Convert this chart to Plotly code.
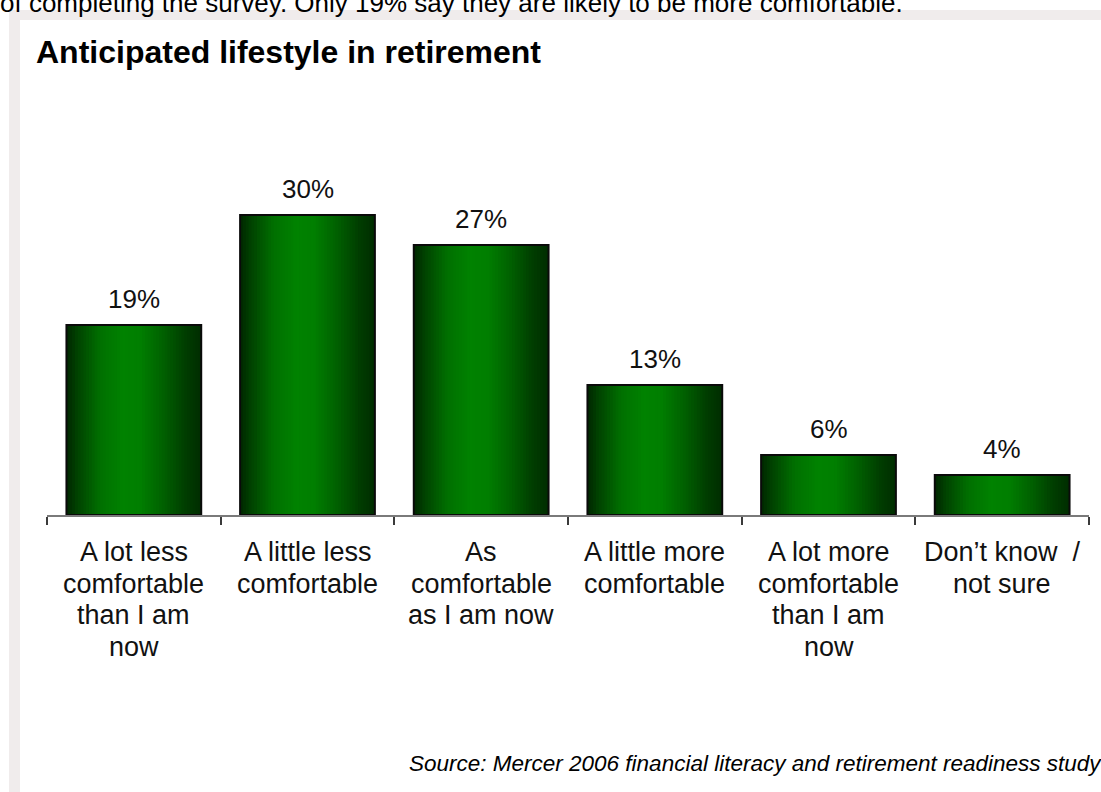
import plotly.graph_objects as go

# --- data ---
categories = ["lot_less", "little_less", "same", "little_more", "lot_more", "unsure"]
tick_labels = [
    "A lot less<br>comfortable<br>than I am<br>now",
    "A little less<br>comfortable",
    "As<br>comfortable<br>as I am now",
    "A little more<br>comfortable",
    "A lot more<br>comfortable<br>than I am<br>now",
    "Don’t know  /<br>not sure",
]
shares = [19, 30, 27, 13, 6, 4]

title_text = "Anticipated lifestyle in retirement"
lead_text = "of completing the survey. Only 19% say they are likely to be more comfortable."
source_text = "Source: Mercer 2006 financial literacy and retirement readiness study"

FONT = "Liberation Sans, Arial, sans-serif"
W, H = 1101, 792
BAR_W = 0.776
LINE_GAP = 31.5

# horizontal shading of the bars: (position across bar, green level)
stops = [(0.0, 38), (0.08, 66), (0.25, 112), (0.42, 130), (0.55, 126),
         (0.72, 96), (0.88, 62), (1.0, 45)]


def green_at(t):
    for (t0, g0), (t1, g1) in zip(stops[:-1], stops[1:]):
        if t0 <= t <= t1:
            g = g0 + (g1 - g0) * (t - t0) / (t1 - t0)
            return f"rgb(0,{round(g)},0)"
    return f"rgb(0,{stops[-1][1]},0)"


fig = go.Figure()

N = 48
strip = BAR_W / N
for i in range(N):
    t = (i + 0.5) / N
    fig.add_trace(go.Bar(
        x=categories, y=shares,
        width=strip * 1.6 if i < N - 1 else strip,
        offset=-BAR_W / 2 + i * strip,
        marker=dict(color=green_at(t), line=dict(width=0)),
        hoverinfo="skip", showlegend=False,
    ))

# outline on top of the shaded strips
fig.add_trace(go.Bar(
    x=categories, y=shares, width=BAR_W,
    marker=dict(color="rgba(0,0,0,0)", line=dict(color="#0a0a0a", width=2)),
    hoverinfo="skip", showlegend=False,
))

# value labels above bars
for c, v in zip(categories, shares):
    fig.add_annotation(
        x=c, y=v, xref="x", yref="y", text=f"{v}%", showarrow=False,
        yanchor="bottom", yshift=9,
        font=dict(family=FONT, size=26, color="#111111"),
    )

# category labels, one line per annotation for tighter leading
for c, lab in zip(categories, tick_labels):
    for k, line in enumerate(lab.split("<br>")):
        fig.add_annotation(
            x=c, y=0, xref="x", yref="paper", text=line, showarrow=False,
            yanchor="middle", yshift=-(37 + k * LINE_GAP),
            font=dict(family=FONT, size=27, color="#111111"),
        )

# background panel
fig.add_shape(type="rect", xref="paper", yref="paper", layer="below",
              x0=-47 / 1042 + 9 / 1042, x1=1 + 12 / 1042,
              y0=-277 / 350, y1=1 + (165 - 10) / 350,
              fillcolor="#f0ecec", line=dict(width=0))
fig.add_shape(type="rect", xref="paper", yref="paper", layer="below",
              x0=-47 / 1042 + 20 / 1042, x1=1 + 12 / 1042,
              y0=-277 / 350, y1=1 + (165 - 20) / 350,
              fillcolor="white", line=dict(width=0))

fig.add_annotation(
    xref="paper", yref="paper", x=0, y=1, xanchor="left", yanchor="middle",
    xshift=-13, yshift=113, text=f"<b>{title_text}</b>", showarrow=False,
    font=dict(family=FONT, size=32, color="black"),
)
fig.add_annotation(
    xref="paper", yref="paper", x=0, y=1, xanchor="left", yanchor="bottom",
    xshift=-49, yshift=145, text=lead_text, showarrow=False,
    font=dict(family=FONT, size=26, color="black"),
)
fig.add_annotation(
    xref="paper", yref="paper", x=1, y=0, xanchor="right", yanchor="middle",
    xshift=15, yshift=-248, text=f"<i>{source_text}</i>", showarrow=False,
    font=dict(family=FONT, size=22.5, color="black"),
)

fig.update_layout(
    width=W, height=H,
    margin=dict(l=47, r=12, t=165, b=277),
    paper_bgcolor="white", plot_bgcolor="rgba(0,0,0,0)",
    barmode="overlay", showlegend=False,
    xaxis=dict(
        type="category", categoryarray=categories,
        tickmode="array", tickvals=categories, showticklabels=False,
        tickson="boundaries", ticks="outside", ticklen=8, tickwidth=1.5,
        tickcolor="#3a3a3a", showline=True, linecolor="#7a7a7a", linewidth=1.5,
        showgrid=False, zeroline=False,
        range=[-0.5, 5.5],
    ),
    yaxis=dict(range=[0, 35], visible=False, showgrid=False, zeroline=False),
)

fig.write_html("out.html")
